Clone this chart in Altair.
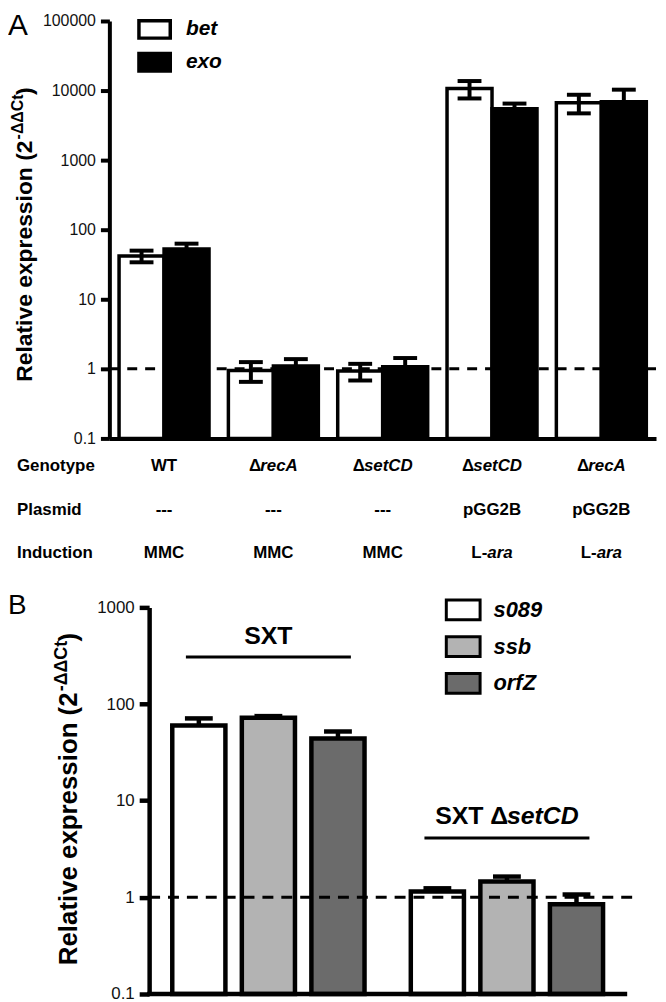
import altair as alt
import pandas as pd

FONT = "Liberation Sans"

# ---------------- Panel A data ----------------
a_groups = ["WT|---|MMC", "ΔrecA|---|MMC", "ΔsetCD|---|MMC", "ΔsetCD|pGG2B|L-ara", "ΔrecA|pGG2B|L-ara"]
a_genes = ["bet", "exo"]
a_bet = [42, 0.95, 0.93, 10700, 6700]
a_bet_err = [8, 0.30, 0.25, 3000, 2000]
a_exo = [53, 1.10, 1.07, 5500, 6900]
a_exo_err = [10, 0.28, 0.36, 1000, 3400]
a_geno_plain = ["WT", "Δ", "Δ", "Δ", "Δ"]
a_geno_italic = ["", "recA", "setCD", "setCD", "recA"]
a_plasmid = ["---", "---", "---", "pGG2B", "pGG2B"]
a_ind_plain = ["MMC", "MMC", "MMC", "L-", "L-"]
a_ind_italic = ["", "", "", "ara", "ara"]
a_row_labels = ["Genotype", "Plasmid", "Induction"]
a_ticks = [0.1, 1, 10, 100, 1000, 10000, 100000]

# ---------------- Panel B data ----------------
b_groups = ["SXT", "SXT ΔsetCD"]
b_group_plain = ["SXT", "SXT Δ"]
b_group_italic = ["", "setCD"]
b_genes = ["s089", "ssb", "orfZ"]
b_sxt = [60, 72, 44]
b_sxt_err = [11, 3, 8]
b_setcd = [1.15, 1.46, 0.85]
b_setcd_err = [0.09, 0.18, 0.22]
b_ticks = [0.1, 1, 10, 100, 1000]

# ---------------- helpers ----------------
CW = {'W': 944, 'T': 611, 'r': 389, 'e': 556, 'c': 556, 'A': 722, 's': 556, 't': 333,
      'C': 722, 'D': 722, '-': 333, 'p': 611, 'G': 778, '2': 556, 'B': 722, 'M': 833,
      'L': 611, 'a': 556, ' ': 278, 'X': 667, 'S': 667, 'Δ': 667, 'R': 722, 'l': 278,
      'i': 278, 'v': 556, 'x': 556, 'o': 611, 'n': 611, '(': 333, ')': 333}


def tw(s, size):
    return sum(CW.get(ch, 556) for ch in s) * size / 1000.0


def one():
    return alt.Chart(pd.DataFrame({"k": [0]}))


def rich_layers(df, xenc, pf, itf, yfun, size):
    layers = []
    combos = df[[pf, itf]].drop_duplicates().itertuples(index=False)
    for p, it in combos:
        w = tw(p + it, size)
        base = alt.Chart(df).transform_filter(
            (alt.datum[pf] == p) & (alt.datum[itf] == it))
        y = yfun(p, it)
        if p:
            layers.append(base.mark_text(align="left", baseline="middle", dx=-w / 2,
                                         fontSize=size, fontWeight="bold", font=FONT,
                                         color="black")
                          .encode(x=xenc, y=alt.value(y), text=alt.Text(f"{pf}:N")))
        if it:
            layers.append(base.mark_text(align="left", baseline="middle",
                                         dx=-w / 2 + tw(p, size), fontSize=size,
                                         fontWeight="bold", fontStyle="italic", font=FONT,
                                         color="black")
                          .encode(x=xenc, y=alt.value(y), text=alt.Text(f"{itf}:N")))
    return layers


def title_layers(x, y, main_size, sup_size, raise_px):
    main = "Relative expression (2"
    sup = "-ΔΔCt"
    y_sup = y - tw(main, main_size) - 1
    y_par = y_sup - tw(sup, sup_size) - 1
    common = dict(angle=270, align="left", baseline="alphabetic", font=FONT,
                  fontWeight="bold", color="black")
    return [
        one().mark_text(text=main, fontSize=main_size, **common).encode(
            x=alt.value(x), y=alt.value(y)),
        one().mark_text(text=sup, fontSize=sup_size, **common).encode(
            x=alt.value(x - raise_px), y=alt.value(y_sup)),
        one().mark_text(text=")", fontSize=main_size, **common).encode(
            x=alt.value(x), y=alt.value(y_par)),
    ]


LABEL_EXPR = "datum.value < 1 ? '0.1' : format(datum.value, 'd')"

# ---------------- Panel A ----------------
rows = []
for gi, g in enumerate(a_groups):
    for gene, vals, errs in (("bet", a_bet, a_bet_err), ("exo", a_exo, a_exo_err)):
        v, e = vals[gi], errs[gi]
        rows.append({"group": g, "gene": gene, "value": v, "lo": v - e, "hi": v + e, "base": 0.1})
dfa = pd.DataFrame(rows)
dfa_lab = pd.DataFrame({"group": a_groups, "gp": a_geno_plain, "gi": a_geno_italic,
                        "plasmid": a_plasmid, "ip": a_ind_plain, "ii": a_ind_italic})

WA, HA = 550, 420
xA = alt.X("group:N", sort=a_groups,
           scale=alt.Scale(paddingInner=0.177, paddingOuter=0.0886),
           axis=alt.Axis(labels=False, ticks=False, title=None, domainWidth=4,
                         domainColor="black"))
xoA = alt.XOffset("gene:N", sort=a_genes, scale=alt.Scale(paddingInner=0, paddingOuter=0))
yscA = alt.Scale(type="log", domain=[0.1, 100000])
yaxA = alt.Axis(values=a_ticks, labelExpr=LABEL_EXPR, title=None, grid=False,
                tickSize=9, tickWidth=4, domainWidth=4, tickColor="black",
                domainColor="black", labelFontSize=16, labelColor="#111",
                labelFont=FONT, labelPadding=5)

barsA = alt.Chart(dfa).mark_bar(stroke="black", strokeWidth=3.5).encode(
    x=xA, xOffset=xoA,
    y=alt.Y("value:Q", scale=yscA, axis=yaxA),
    y2="base:Q",
    fill=alt.Fill("gene:N", scale=alt.Scale(domain=a_genes, range=["white", "black"]),
                  legend=alt.Legend(title=None, orient="none", legendX=26, legendY=-8,
                                    symbolType="M-0.9,-0.5L0.9,-0.5L0.9,0.5L-0.9,0.5Z",
                                    symbolSize=1225, symbolStrokeColor="black",
                                    symbolStrokeWidth=3.5, symbolOpacity=1,
                                    labelFontSize=21, labelFontStyle="italic",
                                    labelFontWeight="bold", labelFont=FONT,
                                    labelColor="black", labelOffset=12,
                                    rowPadding=0, clipHeight=33, padding=0)),
)
errA = alt.Chart(dfa).mark_rule(color="black", strokeWidth=4).encode(
    x=xA, xOffset=xoA, y=alt.Y("lo:Q", scale=yscA, axis=yaxA), y2="hi:Q")
capHiA = alt.Chart(dfa).mark_tick(orient="horizontal", size=24, thickness=4, color="black",
                                  opacity=1).encode(
    x=xA, xOffset=xoA, y=alt.Y("hi:Q", scale=yscA, axis=yaxA))
capLoA = alt.Chart(dfa).mark_tick(orient="horizontal", size=24, thickness=4, color="black",
                                  opacity=1).encode(
    x=xA, xOffset=xoA, y=alt.Y("lo:Q", scale=yscA, axis=yaxA))
dashA = one().mark_rule(strokeDash=[10, 8], strokeWidth=3, color="black").encode(
    y=alt.Y(datum=1, scale=yscA), x=alt.value(0), x2=alt.value(WA))

row_y = {"Genotype": 448, "Plasmid": 492, "Induction": 535}
headA = [one().mark_text(text=r, align="left", baseline="middle", fontSize=17,
                         fontWeight="bold", font=FONT, color="black").encode(
    x=alt.value(-93), y=alt.value(row_y[r])) for r in a_row_labels]
genoA = rich_layers(dfa_lab, xA, "gp", "gi", lambda p, i: row_y["Genotype"], 17)
plasA = [alt.Chart(dfa_lab).mark_text(align="center", baseline="middle", fontSize=17,
                                      fontWeight="bold", font=FONT, color="black").encode(
    x=xA, y=alt.value(row_y["Plasmid"]), text="plasmid:N")]
indA = rich_layers(dfa_lab, xA, "ip", "ii", lambda p, i: row_y["Induction"], 17)
letterA = one().mark_text(text="A", align="left", baseline="top", fontSize=30,
                          font=FONT, color="black").encode(x=alt.value(-102), y=alt.value(-10))
titleA = title_layers(-78, 363, 23, 16, 9)

chartA = alt.layer(barsA, errA, capHiA, capLoA, dashA, *headA, *genoA, *plasA, *indA,
                   letterA, *titleA).properties(width=WA, height=HA)

# ---------------- Panel B ----------------
rows = []
for gname, vals, errs in ((b_groups[0], b_sxt, b_sxt_err), (b_groups[1], b_setcd, b_setcd_err)):
    for gene, v, e in zip(b_genes, vals, errs):
        rows.append({"group": gname, "gene": gene, "value": v, "hi": v + e, "base": 0.1})
dfb = pd.DataFrame(rows)
dfb_lab = pd.DataFrame({"group": b_groups, "lp": b_group_plain, "li": b_group_italic})

WB, HB = 520, 389
xB = alt.X("group:N", sort=b_groups,
           scale=alt.Scale(range=[40, 520], paddingInner=0.194, paddingOuter=0.097),
           axis=None)
xoB = alt.XOffset("gene:N", sort=b_genes, scale=alt.Scale(paddingInner=0.236, paddingOuter=0))
yscB = alt.Scale(type="log", domain=[0.1, 1000])
yaxB = alt.Axis(values=b_ticks, labelExpr=LABEL_EXPR, title=None, grid=False, offset=-40,
                tickSize=10, tickWidth=4.5, domainWidth=4.5, tickColor="black",
                domainColor="black", labelFontSize=17, labelColor="#111",
                labelFont=FONT, labelPadding=5)

errB = alt.Chart(dfb).mark_rule(color="black", strokeWidth=4.5).encode(
    x=xB, xOffset=xoB, y=alt.Y("value:Q", scale=yscB, axis=yaxB), y2="hi:Q")
capB = alt.Chart(dfb).mark_tick(orient="horizontal", size=28, thickness=4.5, color="black",
                                opacity=1).encode(
    x=xB, xOffset=xoB, y=alt.Y("hi:Q", scale=yscB, axis=yaxB))
barsB = alt.Chart(dfb).mark_bar(stroke="black", strokeWidth=4.5).encode(
    x=xB, xOffset=xoB,
    y=alt.Y("value:Q", scale=yscB, axis=yaxB),
    y2="base:Q",
    fill=alt.Fill("gene:N", scale=alt.Scale(domain=b_genes,
                                            range=["white", "#b3b3b3", "#6b6b6b"]),
                  legend=alt.Legend(title=None, orient="none", legendX=337.5, legendY=-16,
                                    symbolType="M-1,-0.588L1,-0.588L1,0.588L-1,0.588Z",
                                    symbolSize=1156, symbolStrokeColor="black",
                                    symbolStrokeWidth=3, symbolOpacity=1,
                                    labelFontSize=22, labelFontStyle="italic",
                                    labelFontWeight="bold", labelFont=FONT,
                                    labelColor="black", labelOffset=12,
                                    rowPadding=2, padding=0)),
)
baseB = one().mark_rule(strokeWidth=4.5, color="black").encode(
    x=alt.value(38), x2=alt.value(521), y=alt.value(HB))
dashB = one().mark_rule(strokeDash=[11, 8], strokeWidth=3, color="black").encode(
    y=alt.Y(datum=1, scale=yscB), x=alt.value(40), x2=alt.value(528))

b_label_y = {"SXT": 29, "SXT Δ": 210}
b_line_y = {"SXT": 50, "SXT ΔsetCD": 232}
labB = rich_layers(dfb_lab, xB, "lp", "li", lambda p, i: b_label_y[p], 25)
linesB = [alt.Chart(dfb_lab).transform_filter(alt.datum.group == g).mark_tick(
    orient="horizontal", size=166, thickness=3, color="black", opacity=1).encode(
    x=xB, y=alt.value(b_line_y[g])) for g in b_groups]
letterB = one().mark_text(text="B", align="left", baseline="top", fontSize=28,
                          font=FONT, color="black").encode(x=alt.value(-102), y=alt.value(-15))
titleB = title_layers(-33, 360, 26, 18, 10)

chartB = alt.layer(errB, capB, barsB, baseB, dashB, *labB, *linesB, letterB,
                   *titleB).properties(width=WB, height=HB)

chart = alt.vconcat(chartA, chartB, spacing=31).resolve_scale(
    fill="independent", x="independent", y="independent", xOffset="independent"
).configure_view(stroke=None).properties(padding=0)

chart.save("out.html", embed_options={"renderer": "svg", "actions": False})
